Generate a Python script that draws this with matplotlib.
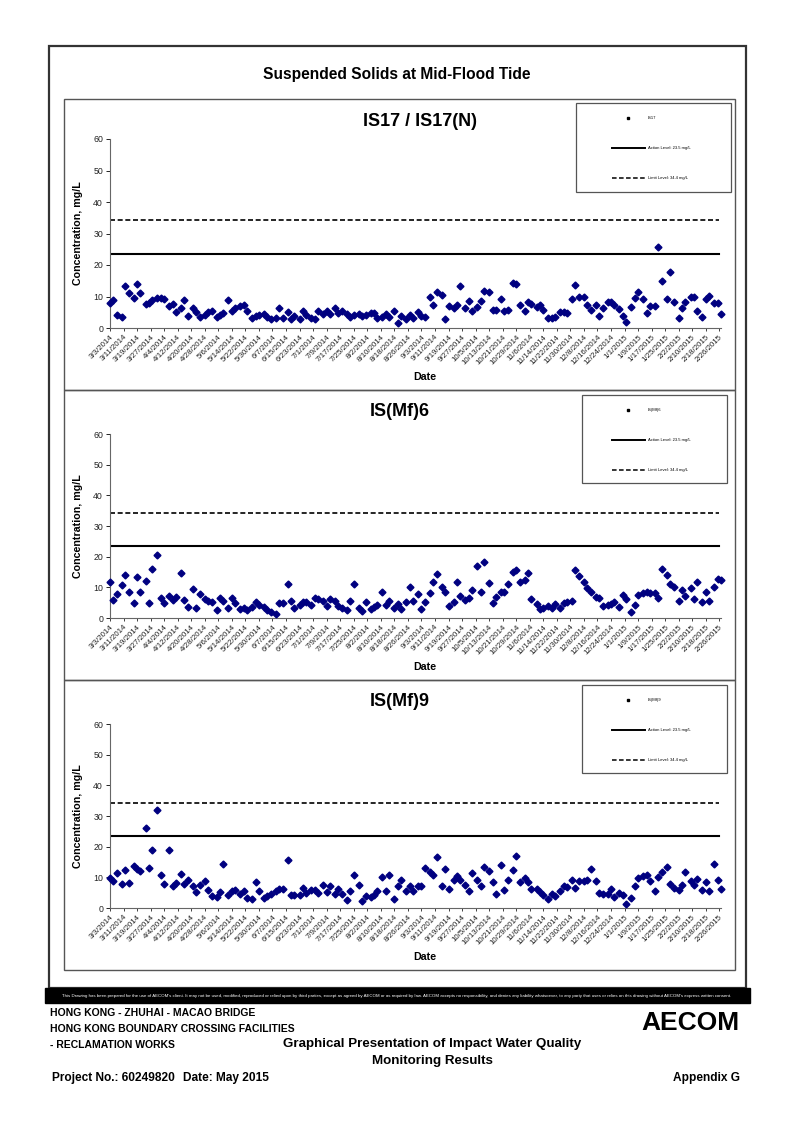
import matplotlib
matplotlib.use("Agg")
import matplotlib.pyplot as plt
from matplotlib.patches import Rectangle
import pandas as pd

plt.rcParams['font.family'] = ['Liberation Sans', 'DejaVu Sans']

# ---------------- data ----------------
main_title = "Suspended Solids at Mid-Flood Tide"
station_titles = ["IS17 / IS17(N)", "IS(Mf)6", "IS(Mf)9"]
station_legend = ["IS17", "IS(Mf)6", "IS(Mf)9"]
action_level = 23.5
limit_level = 34.4
action_label = "Action Level: 23.5 mg/L"
limit_label = "Limit Level: 34.4 mg/L"
start_date = "2014-03-03"
end_date = "2015-02-27"
tick_step_days = 8
yticks = [0, 10, 20, 30, 40, 50, 60]

is17 = [8, 9, 4, 3.5, 13.3, 11, 9.5, 14, 11.2, 7.5,
        8, 9, 9.5, 9.5, 9.3, 7, 7.5, 5, 6.3, 8.8,
        3.8, 6.2, 5, 3.5, 4, 5, 5.5, 3.5, 4, 4.8,
        8.8, 5.5, 6.3, 7, 7.2, 5.5, 3.2, 3.8, 4, 4.5,
        3.5, 2.8, 3.2, 6.3, 3.2, 5.2, 3, 3.8, 3, 5.3,
        4.2, 3.2, 2.8, 5.5, 4.5, 5.5, 4.5, 6.5, 4.8, 5.3,
        4.5, 3.5, 4, 4.5, 3.8, 4.2, 4.8, 4.8, 3.2, 3.5,
        4.3, 3.5, 5.5, 1.5, 3.8, 2.8, 4.2, 3.2, 5.2, 3.8,
        3.5, 10, 7.3, 11.3, 10.5, 3, 7, 6.3, 7.3, 13.2,
        6.3, 8.5, 5.3, 6.8, 8.5, 11.8, 11.5, 5.8, 5.8, 9.2,
        5.5, 5.8, 14.2, 14, 7.3, 5.5, 8.3, 7.5, 6.8, 7.3,
        5.8, 3.2, 3.2, 3.5, 5, 5, 4.8, 9.2, 13.8,
        9.8, 10, 7.3, 5.8, 7.3, 3.8, 6.3, 8.2, 8.2, 7.2,
        6, 3.8, 1.8, 6.8, 9.5, 11.5, 9.3, 4.8, 7, 7,
        25.8, 14.8, 9.2, 17.8, 8.2, 3.3, 6.3, 8.2, 9.8, 9.8,
        5.3, 3.5, 9.2, 10.3, 8, 7.8, 4.3]

ismf6 = [11.7, 6, 7.7, 10.8, 14.1, 8.5, 4.8, 13.3, 8.4, 12,
         4.8, 16, 20.6, 6.4, 5, 7.2, 5.9, 6.7, 14.7, 5.9,
         3.6, 9.6, 3.2, 7.8, 6.1, 5.6, 5.3, 2.5, 6.6, 5.5,
         3.4, 6.6, 4.8, 3, 3.3, 2.5, 3.6, 5.3, 4.2, 3.6,
         2.5, 1.9, 1.2, 4.8, 5, 11.2, 5.5, 3.3, 4.2,
         5.1, 5.3, 4.2, 6.4, 6.2, 5.6, 4, 6.1, 5.5, 4,
         3.3, 2.5, 5.6, 11, 3.4, 2.2, 5.3, 2.8, 3.6, 4.2,
         8.6, 4.2, 5.5, 3.1, 4.5, 2.9, 5.1, 10, 5.6, 7.7,
         2.9, 5.3, 8,
         11.7, 14.4, 10, 8.6, 3.9, 5.3, 11.9, 7.2, 5.9, 6.4,
         9.2, 16.9, 8.4, 18.3, 11.4, 5, 6.7, 8.4, 8.4, 11.2,
         15, 15.8, 11.6, 12.3, 14.7, 6.2, 4.5, 2.9, 3.4, 3.9,
         3.4, 4.5, 3.3, 5, 5.3, 5.5, 15.8, 13.6, 11.7, 9.7,
         8.4, 7, 6.4, 3.9, 4.2, 4.5, 5.3, 3.6, 7.5, 6.1,
         1.8, 4.2, 7.5, 8.1, 8.6, 8.3, 8.1, 6.4, 16.1, 13.9,
         11.2, 10, 5.5, 9.2, 7.2, 9.7, 6.1, 11.7, 5.3, 8.6,
         5.5, 10, 12.7, 12.3]

ismf9 = [9.8, 8.7, 11.4, 7.8, 12.5, 8.2, 13.6, 12.8, 12.2, 26.1,
         13, 19, 32.1, 10.9, 7.8, 19, 7.3, 8.2, 11.2, 7.8,
         9, 7.3, 5.1, 7.6, 8.9, 6, 4, 3.5, 5.1, 14.3,
         4.3, 5.7, 6, 4.6, 5.7, 3.3, 2.9, 8.5, 5.7, 3.3,
         4, 4.7, 5.4, 6.2, 6.2, 15.8, 4.1, 4.3, 4.1, 6.5,
         4.9, 6, 6, 4.9, 7.4, 5.1, 7.3, 4.6, 6.2, 4.6,
         2.5, 5.7, 10.9, 7.4, 2.4, 3.8, 3.5, 4.3, 5.4, 10.1,
         5.7, 10.9, 2.9, 7.3, 9, 5.4, 7.1, 5.4, 7.1, 7.3,
         13, 11.7,
         10.9, 16.5, 7.1, 12.8, 6.3, 9.2, 10.3, 9.2, 7.6, 5.4,
         11.4, 9.2, 7.1, 13.3, 12, 8.5, 4.7, 13.9, 6, 9.2,
         12.5, 16.8, 8.4, 9.8, 8.4, 6.2, 6.2, 5.1, 4.1, 2.9,
         4.6, 3.8, 5.4, 7.1, 6.7, 9.2, 6.5, 8.7, 8.9, 9.2,
         12.7, 8.9, 4.9, 4.7, 4.7, 6.2, 3.6, 4.9, 4.3, 1.3,
         3.3, 7.1, 9.8, 10.3, 10.9, 8.9, 5.4, 10, 11.7, 13.3,
         7.8, 6.5, 5.8, 7.6, 11.7, 8.9, 7.6, 9.6, 5.8, 8.5,
         5.7, 14.5, 9.2, 6.3]

series = [is17, ismf6, ismf9]

footer_left = ["HONG KONG - ZHUHAI - MACAO BRIDGE",
               "HONG KONG BOUNDARY CROSSING FACILITIES",
               "- RECLAMATION WORKS"]
footer_title = ["Graphical Presentation of Impact Water Quality", "Monitoring Results"]
project_no = "Project No.: 60249820"
date_text = "Date: May 2015"
appendix = "Appendix G"
disclaimer = ("This Drawing has been prepared for the use of AECOM's client. It may not be used, modified, "
              "reproduced or relied upon by third parties, except as agreed by AECOM or as required by law. "
              "AECOM accepts no responsibility, and denies any liability whatsoever, to any party that uses "
              "or relies on this drawing without AECOM's express written consent.")

# sampling schedule (Mon / Wed / Fri)
mwf = pd.offsets.CustomBusinessDay(weekmask="Mon Wed Fri")
tick_dates = pd.date_range(start_date, end_date, freq=f"{tick_step_days}D")

# ---------------- figure ----------------
W, H = 794, 1123
fig = plt.figure(figsize=(W / 100, H / 100), dpi=100)

def rect(x0, y0, x1, y1):
    return [x0 / W, 1 - y1 / H, (x1 - x0) / W, (y1 - y0) / H]

bg = fig.add_axes([0, 0, 1, 1], zorder=0)
bg.set_xlim(0, W)
bg.set_ylim(H, 0)
bg.axis('off')

# outer frame
bg.add_patch(Rectangle((49, 46), 697, 942, fill=False, ec='#333333', lw=1.6))
bg.text(397, 74, main_title, ha='center', va='center', fontsize=11.2, fontweight='bold')

panel_tops = [99, 390, 680]
panel_bots = [390, 680, 970]
plot_tops = [139, 434, 724]
plot_bots = [328, 618, 908]
title_x = [420, 400, 400]
legend_boxes = [(576, 103, 731, 192), (582, 395, 727, 483), (582, 685, 727, 773)]
navy = '#000080'
dash = (0, (3, 1.6))

for i in range(3):
    bg.add_patch(Rectangle((64, panel_tops[i]), 671, panel_bots[i] - panel_tops[i],
                           fill=False, ec='#555555', lw=1.0))
    vals = series[i]
    dates = pd.date_range(start_date, periods=len(vals), freq=mwf)

    ax = fig.add_axes(rect(110, plot_tops[i], 721, plot_bots[i]), zorder=2)
    ax.patch.set_alpha(0)
    ax.plot(dates, vals, linestyle='none', marker='D', markersize=3.5,
            color=navy, mec=navy, clip_on=False, zorder=3)
    x_lo = pd.Timestamp(start_date)
    x_hi = pd.Timestamp(end_date)
    ax.plot([x_lo, x_hi - pd.Timedelta(days=1)], [action_level] * 2, color='black', lw=1.5)
    ax.plot([x_lo, x_hi - pd.Timedelta(days=1)], [limit_level] * 2, color='black', lw=1.2,
            linestyle=dash)
    ax.set_xlim(x_lo, x_hi)
    ax.set_ylim(0, 60)
    ax.set_yticks(yticks)
    ax.set_xticks(tick_dates)
    ax.set_xticklabels([f"{d.month}/{d.day}/{d.year}" for d in tick_dates],
                       rotation=45, ha='right', rotation_mode='anchor', fontsize=5.7)
    ax.tick_params(axis='y', labelsize=6.3, length=3, width=0.7, colors='#222222', pad=2)
    ax.tick_params(axis='x', length=2.5, width=0.6, colors='#222222', pad=1.5)
    for s in ['top', 'right']:
        ax.spines[s].set_visible(False)
    for s in ['left', 'bottom']:
        ax.spines[s].set_color('#666666')
        ax.spines[s].set_linewidth(0.8)
    ax.set_ylabel("Concentration, mg/L", fontsize=7.7, fontweight='bold')
    ax.yaxis.set_label_coords(-0.044, 0.5)
    ax.set_xlabel("Date", fontsize=7.7, fontweight='bold')
    ax.xaxis.set_label_coords(0.515, -44 / (plot_bots[i] - plot_tops[i]))

    bg.text(title_x[i], panel_tops[i] + 22, station_titles[i], ha='center', va='center',
            fontsize=13, fontweight='bold')

    # legend
    lx0, ly0, lx1, ly1 = legend_boxes[i]
    bg.add_patch(Rectangle((lx0, ly0), lx1 - lx0, ly1 - ly0, fill=False, ec='#555555', lw=0.9))
    bg.plot([628], [ly0 + 15], marker='s', markersize=1.6, color='black')
    bg.text(648, ly0 + 15, station_legend[i], fontsize=3, va='center')
    bg.plot([612, 645], [ly0 + 45, ly0 + 45], color='black', lw=1.4)
    bg.text(648, ly0 + 45, action_label, fontsize=3, va='center')
    bg.plot([612, 645], [ly0 + 75, ly0 + 75], color='black', lw=1.1, linestyle=dash)
    bg.text(648, ly0 + 75, limit_label, fontsize=3, va='center')

# black disclaimer band
bg.add_patch(Rectangle((45, 988), 705, 15, color='black'))
bg.text(397, 995.5, disclaimer, ha='center', va='center', fontsize=3.2, color='white')

for k, t in enumerate(footer_left):
    bg.text(50, 1013 + 16 * k, t, ha='left', va='center', fontsize=7.5, fontweight='bold')
bg.text(432, 1044, footer_title[0], ha='center', va='center', fontsize=9.6, fontweight='bold')
bg.text(432, 1061, footer_title[1], ha='center', va='center', fontsize=9.6, fontweight='bold')
bg.text(52, 1078, project_no, ha='left', va='center', fontsize=8.6, fontweight='bold')
bg.text(183, 1078, date_text, ha='left', va='center', fontsize=8.6, fontweight='bold')
bg.text(740, 1078, appendix, ha='right', va='center', fontsize=8.6, fontweight='bold')
bg.text(690, 1023, "AECOM", ha='center', va='center', fontsize=19, fontweight='heavy')

fig.savefig("out.png", dpi=100)
